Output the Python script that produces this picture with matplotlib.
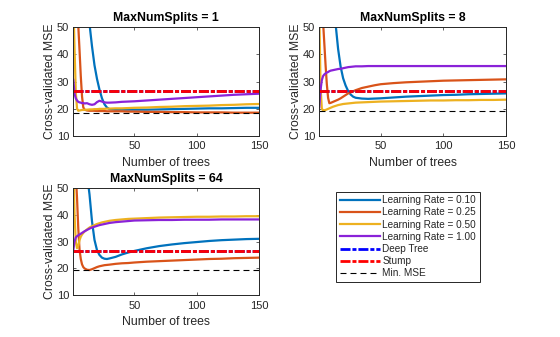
import matplotlib
matplotlib.use("Agg")
import matplotlib.pyplot as plt

plt.rcParams['font.family'] = ['Liberation Sans', 'DejaVu Sans']
plt.rcParams['lines.scale_dashes'] = False

trees = [1, 2, 3, 4, 5, 6, 7, 8, 9, 10, 12, 14, 16, 18, 20, 22, 24, 26, 28, 30,
         35, 40, 45, 50, 60, 70, 80, 90, 100, 110, 120, 130, 140, 150]

learn_rates = [0.10, 0.25, 0.50, 1.00]
max_splits = [1, 8, 64]

# Cross-validated MSE, one list per learning rate, for each MaxNumSplits
mse_splits1_lr010 = [120, 112, 105, 98, 92, 86, 80, 75, 70, 66, 58, 51.2, 43, 36, 31, 27, 23.8, 21.6,
                     20.4, 19.8, 19.6, 19.6, 19.6, 19.6, 19.6, 19.7, 19.8, 19.9, 20.0, 20.1, 20.1,
                     20.2, 20.3, 20.3]
mse_splits1_lr025 = [90, 75, 64, 56, 50.5, 41.5, 32, 24.5, 20.5, 19.6, 19.3, 19.2, 19.2, 19.2, 19.1,
                     19.1, 19.1, 19.1, 19.0, 19.0, 19.0, 19.0, 18.9, 18.9, 18.8, 18.8, 18.7, 18.7,
                     18.6, 18.6, 18.6, 18.5, 18.5, 18.5]
mse_splits1_lr050 = [60, 42, 26, 20, 19.2, 19.3, 19.4, 19.5, 19.5, 19.6, 19.6, 19.7, 19.7, 19.8, 19.8,
                     19.9, 19.9, 19.9, 20.0, 20.0, 20.1, 20.1, 20.2, 20.3, 20.4, 20.6, 20.7, 20.9,
                     21.0, 21.1, 21.3, 21.4, 21.6, 21.7]
mse_splits1_lr100 = [30.6, 25.5, 23.8, 23.0, 22.5, 22.3, 22.2, 22.0, 22.1, 21.9, 22.0, 21.6, 21.4,
                     21.6, 22.4, 22.9, 22.6, 22.3, 22.2, 22.2, 22.3, 22.5, 22.6, 22.7, 23.0, 23.3,
                     23.6, 23.9, 24.2, 24.5, 24.8, 25.1, 25.3, 25.5]

mse_splits8_lr010 = [120, 112, 105, 98, 92, 86, 80, 75, 70, 66, 58, 51.2, 42, 35.5, 31.2, 28.5, 26.5,
                     25.2, 24.4, 24.0, 23.7, 23.6, 23.7, 23.8, 24.1, 24.4, 24.6, 24.8, 25.0, 25.1,
                     25.3, 25.4, 25.5, 25.6]
mse_splits8_lr025 = [90, 75, 62, 52, 44, 36, 29, 24, 22, 22.1, 22.5, 22.9, 23.3, 23.8, 24.4, 25.0,
                     25.6, 26.0, 26.4, 26.8, 27.6, 28.1, 28.6, 29.0, 29.4, 29.7, 29.9, 30.1, 30.3,
                     30.4, 30.5, 30.6, 30.7, 30.8]
mse_splits8_lr050 = [55, 28, 20, 19.3, 19.4, 19.5, 19.7, 19.9, 20.1, 20.3, 20.7, 21.0, 21.3, 21.5,
                     21.7, 21.8, 21.9, 22.0, 22.1, 22.2, 22.3, 22.4, 22.5, 22.6, 22.7, 22.8, 22.9,
                     23.0, 23.0, 23.1, 23.1, 23.2, 23.2, 23.3]
mse_splits8_lr100 = [20.5, 27, 30.5, 32, 32.6, 33, 33.3, 33.5, 33.8, 34.0, 34.2, 34.4, 34.6, 34.7,
                     34.9, 35.1, 35.3, 35.4, 35.5, 35.6, 35.6, 35.7, 35.7, 35.7, 35.7, 35.7, 35.7,
                     35.7, 35.7, 35.7, 35.7, 35.7, 35.7, 35.7]

mse_splits64_lr010 = [120, 110, 102, 95, 88, 82, 76, 71, 66, 62, 55, 47.5, 37.5, 30.6, 26.8, 25.0,
                      24.0, 23.6, 23.5, 23.7, 24.3, 25.2, 25.9, 26.5, 27.5, 28.3, 28.9, 29.4, 29.8,
                      30.2, 30.5, 30.7, 30.9, 31.0]
mse_splits64_lr025 = [80, 65, 55, 46, 34.8, 27, 23.5, 21.5, 20.5, 20.0, 19.5, 19.4, 19.7, 20.1, 20.5,
                      20.8, 21.0, 21.2, 21.3, 21.4, 21.7, 21.9, 22.0, 22.2, 22.5, 22.7, 22.9, 23.1,
                      23.3, 23.5, 23.6, 23.8, 23.9, 24.0]
mse_splits64_lr050 = [60, 40, 30, 27.5, 28.5, 30.5, 31.8, 32.6, 33.2, 33.7, 34.5, 35.2, 35.7, 36.1,
                      36.5, 36.8, 37.1, 37.3, 37.5, 37.7, 38.0, 38.2, 38.4, 38.5, 38.7, 38.9, 39.0,
                      39.1, 39.2, 39.2, 39.3, 39.3, 39.4, 39.4]
mse_splits64_lr100 = [26.8, 30.0, 31.5, 32.0, 32.3, 32.6, 32.9, 33.2, 33.5, 33.8, 34.3, 34.8, 35.2,
                      35.5, 35.8, 36.1, 36.3, 36.5, 36.7, 36.9, 37.2, 37.4, 37.6, 37.8, 37.9, 38.0,
                      38.0, 38.1, 38.1, 38.1, 38.2, 38.2, 38.2, 38.2]

mse_by_splits = [
    [mse_splits1_lr010, mse_splits1_lr025, mse_splits1_lr050, mse_splits1_lr100],
    [mse_splits8_lr010, mse_splits8_lr025, mse_splits8_lr050, mse_splits8_lr100],
    [mse_splits64_lr010, mse_splits64_lr025, mse_splits64_lr050, mse_splits64_lr100],
]

deep_tree_mse = 26.45
stump_mse = 26.4
min_mse = [18.4, 19.3, 19.4]

lr_colors = ['#0072BD', '#D95319', '#EDB120', '#8A22D8']
axis_gray = '#262626'

fig = plt.figure(figsize=(5.6, 3.37), dpi=100)
positions = [
    [0.1309, 0.5973, 0.3316, 0.3217],
    [0.5702, 0.5973, 0.3334, 0.3217],
    [0.1309, 0.1237, 0.3316, 0.3193],
]

handles = []
for k, (pos, splits) in enumerate(zip(positions, max_splits)):
    ax = fig.add_axes(pos)
    ax_h_px = pos[3] * 337
    ax_w_px = pos[2] * 560
    for j, lr in enumerate(learn_rates):
        h, = ax.plot(trees, mse_by_splits[k][j], color=lr_colors[j], lw=1.6,
                     label='Learning Rate = %.2f' % lr)
        if k == 0:
            handles.append(h)
    hd, = ax.plot([trees[0], trees[-1]], [deep_tree_mse] * 2, color='b', lw=2,
                  dashes=[7.2, 1.4, 2.9, 1.4], label='Deep Tree')
    hs, = ax.plot([trees[0], trees[-1]], [stump_mse] * 2, color='r', lw=2,
                  dashes=[7.2, 1.4, 2.9, 1.4], label='Stump')
    hm, = ax.plot([trees[0], trees[-1]], [min_mse[k]] * 2, color='k', lw=0.8,
                  dashes=[4.3, 2.9], label='Min. MSE')
    if k == 0:
        handles += [hd, hs, hm]
    ax.set_xlim(1, 150)
    ax.set_ylim(10, 50)
    ax.set_xticks([50, 100, 150])
    ax.set_yticks([10, 20, 30, 40, 50])
    ax.tick_params(direction='in', length=2.5, width=0.5, labelsize=8, colors=axis_gray,
                   top=True, right=True)
    ax.tick_params(axis='x', pad=4)
    ax.tick_params(axis='y', pad=3)
    for s in ax.spines.values():
        s.set_linewidth(0.7)
        s.set_color(axis_gray)
    ax.set_xlabel('Number of trees', fontsize=8.8, color=axis_gray, va='center')
    ax.xaxis.set_label_coords(0.5, -27.0 / ax_h_px)
    ax.set_ylabel('Cross-validated MSE', fontsize=8.8, color=axis_gray, va='center')
    ax.yaxis.set_label_coords(-23.0 / ax_w_px, 0.5)
    ax.text(0.5, 1 + 9.0 / ax_h_px, 'MaxNumSplits = %d' % splits, transform=ax.transAxes,
            ha='center', va='center', fontsize=8.8, fontweight='bold', color='black')

leg = fig.legend(handles=handles, loc='upper left',
                 bbox_to_anchor=(336 / 560, 1 - 191.7 / 337),
                 fontsize=7.2, frameon=True, fancybox=False, framealpha=1,
                 edgecolor=axis_gray, borderaxespad=0, borderpad=0.35,
                 handlelength=4.0, handletextpad=0.3, labelspacing=0.22)
leg.get_frame().set_linewidth(0.7)
for t in leg.get_texts():
    t.set_color(axis_gray)

fig.savefig('out.png', dpi=100, facecolor='white')
